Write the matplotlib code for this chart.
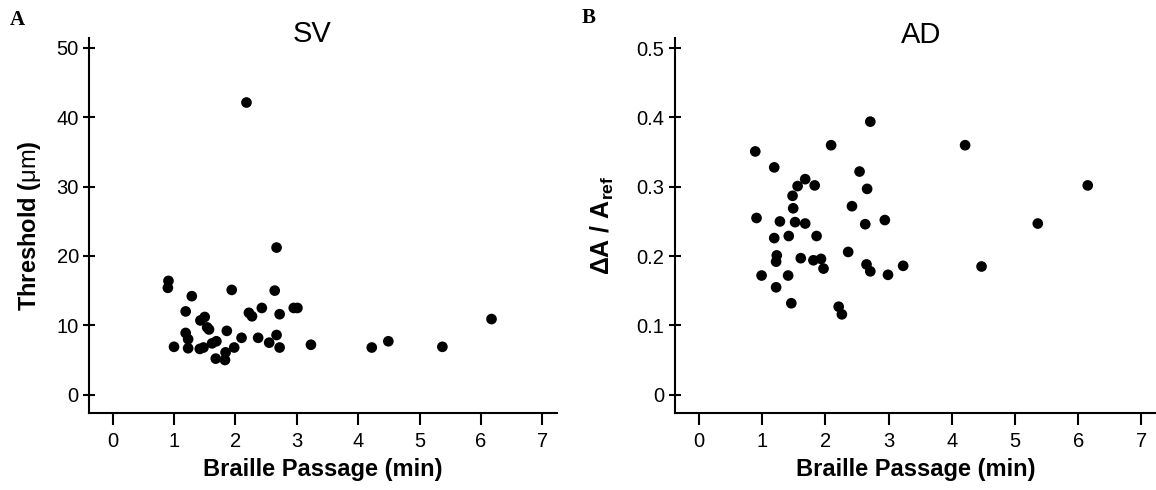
import numpy as np
import matplotlib.pyplot as plt

plt.rcParams['font.family'] = ['Liberation Sans', 'DejaVu Sans']
plt.rcParams['mathtext.fontset'] = 'custom'
plt.rcParams['mathtext.rm'] = 'Liberation Sans'
plt.rcParams['mathtext.bf'] = 'Liberation Sans:bold'

# reading time per braille passage (min) vs. threshold (um), SV task
sv_time = [0.91, 0.90, 1.29, 1.94, 2.64, 2.67, 2.18,
           1.19, 1.50, 1.43, 1.54, 1.57, 2.22, 2.27, 2.43, 2.72, 2.95, 3.01,
           1.19, 1.23, 1.00, 1.23, 1.42, 1.48, 1.62, 1.69, 1.86, 1.84, 1.83, 1.68,
           1.98, 2.10, 2.37, 2.55, 2.67, 2.72,
           3.23, 4.22, 4.49, 5.37, 6.17]
sv_thresh = [16.4, 15.4, 14.2, 15.1, 15.0, 21.2, 42.1,
             12.0, 11.2, 10.7, 9.7, 9.4, 11.8, 11.3, 12.5, 11.6, 12.5, 12.5,
             8.9, 8.0, 6.9, 6.7, 6.6, 6.8, 7.4, 7.7, 9.2, 6.1, 5.0, 5.2,
             6.8, 8.2, 8.2, 7.5, 8.6, 6.8,
             7.2, 6.8, 7.7, 6.9, 10.9]

# reading time vs. relative amplitude threshold, AD task
ad_time = [2.71, 2.09, 0.89, 1.19, 2.54, 1.68, 1.56, 1.83, 2.66, 1.48,
           1.49, 2.42, 0.91, 1.28, 1.52, 1.68, 2.63, 2.94, 1.19, 1.42,
           1.86, 1.23, 1.22, 1.61, 1.81, 1.93, 1.97, 2.36, 2.65, 2.71,
           0.99, 1.41, 2.99, 1.22, 1.46, 2.21, 2.26,
           3.23, 4.21, 4.47, 5.36, 6.15]
ad_ratio = [0.394, 0.360, 0.351, 0.328, 0.322, 0.311, 0.301, 0.302, 0.297, 0.287,
            0.269, 0.272, 0.255, 0.250, 0.249, 0.247, 0.246, 0.252, 0.226, 0.229,
            0.229, 0.201, 0.192, 0.197, 0.194, 0.196, 0.182, 0.206, 0.188, 0.178,
            0.172, 0.172, 0.173, 0.155, 0.132, 0.127, 0.116,
            0.186, 0.360, 0.185, 0.247, 0.302]

x_ticks = [0, 1, 2, 3, 4, 5, 6, 7]
sv_ticks = [0, 10, 20, 30, 40, 50]
ad_ticks = [0, 0.1, 0.2, 0.3, 0.4, 0.5]
ad_ticklabels = ['0', '0.1', '0.2', '0.3', '0.4', '0.5']

fig = plt.figure(figsize=(11.56, 4.9), dpi=100)
ax_a = fig.add_axes([0.0772, 0.1565, 0.4043, 0.766])
ax_b = fig.add_axes([0.5839, 0.1565, 0.4161, 0.766])


def style(ax):
    for side in ('top', 'right'):
        ax.spines[side].set_visible(False)
    for side in ('left', 'bottom'):
        ax.spines[side].set_linewidth(1.5)
    ax.set_xlim(-0.38, 7.23)
    ax.set_xticks(x_ticks)
    ax.tick_params(axis='x', direction='out', length=8.5, width=1.5,
                   pad=5, labelsize=14.5)
    ax.tick_params(axis='y', direction='inout', length=9, width=1.5,
                   pad=3, labelsize=14.5)
    ax.set_xlabel('Braille Passage (min)', fontsize=17, fontweight='bold',
                  labelpad=5)


ax_a.scatter(sv_time, sv_thresh, s=59, color='black', edgecolors='none',
             clip_on=False)
style(ax_a)
ax_a.set_ylim(-2.68, 51.4)
ax_a.set_yticks(sv_ticks)
ax_a.set_ylabel(r'Threshold ($\mathrm{\mu m}$)', fontsize=17,
                fontweight='bold')
ax_a.yaxis.set_label_coords(-0.098, 0.5)
ax_a.text(3.25, 50.8, 'SV', fontsize=21, ha='center', va='baseline')

ax_b.scatter(ad_time, ad_ratio, s=59, color='black', edgecolors='none',
             clip_on=False)
style(ax_b)
ax_b.set_ylim(-0.0268, 0.5147)
ax_b.set_yticks(ad_ticks)
ax_b.set_yticklabels(ad_ticklabels)
ax_b.set_ylabel(r'ΔA / A$_{\mathbf{ref}}$', fontsize=18,
                fontweight='bold')
ax_b.yaxis.set_label_coords(-0.122, 0.5)
ax_b.text(3.52, 0.508, 'AD', fontsize=21, ha='center', va='baseline')

fig.text(10 / 1156, 1 - 10 / 490, 'A', family='Liberation Serif',
         fontweight='bold', fontsize=15, va='top', ha='left')
fig.text(582 / 1156, 1 - 8 / 490, 'B', family='Liberation Serif',
         fontweight='bold', fontsize=15, va='top', ha='left')

fig.savefig('out.png', dpi=100)
